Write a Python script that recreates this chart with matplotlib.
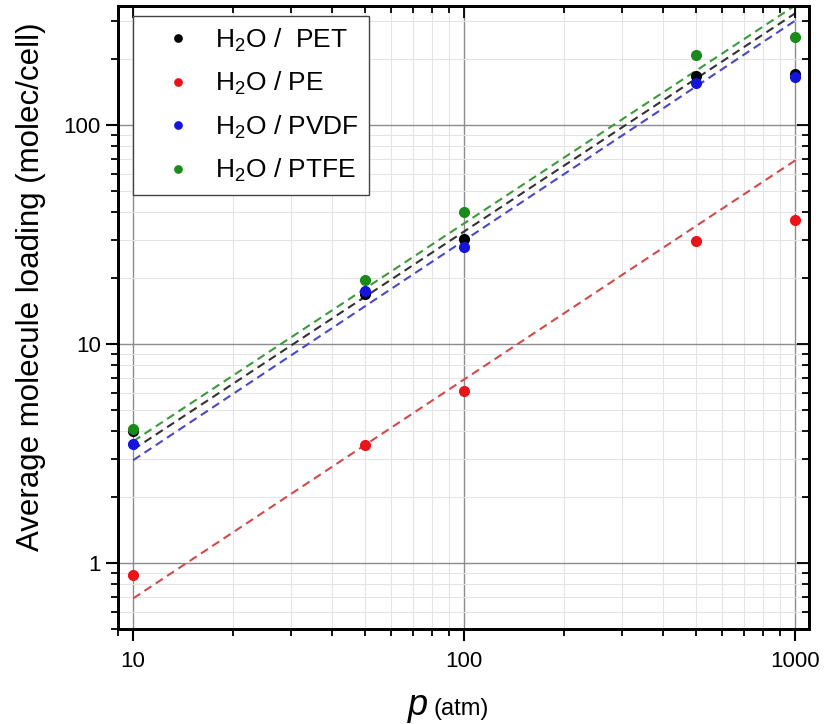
import numpy as np
import matplotlib.pyplot as plt
from matplotlib.ticker import LogLocator, NullFormatter, FixedLocator

plt.rcParams["font.family"] = ["Liberation Sans", "DejaVu Sans"]
plt.rcParams["mathtext.fontset"] = "custom"
plt.rcParams["mathtext.rm"] = "Liberation Sans"
plt.rcParams["mathtext.it"] = "Liberation Sans:italic"

# pressure (atm)
pressure = [10, 50, 100, 500, 1000]

# average loading (molec/cell)
pet = [4.0, 17.0, 30.3, 167, 172]
pe = [0.88, 3.45, 6.1, 29.7, 36.7]
pvdf = [3.5, 17.4, 27.7, 155, 166]
ptfe = [4.1, 19.7, 40.0, 208, 253]

# dashed fit lines, values at the end points
fit_x = [10, 1000]
pet_fit = [3.3, 324]
pe_fit = [0.69, 69]
pvdf_fit = [2.95, 300]
ptfe_fit = [3.6, 352]

labels = [r"H$_2$O /  PET", r"H$_2$O / PE", r"H$_2$O / PVDF", r"H$_2$O / PTFE"]
point_colors = ["black", "#e8141a", "#1414dc", "#1a8a1a"]
line_colors = ["#333333", "#d24a4a", "#4848c8", "#3c9a3c"]

fig = plt.figure(figsize=(8.33, 7.24), dpi=100)
ax = fig.add_axes([0.1417, 0.1312, 0.8293, 0.8605])

series = [pet, pe, pvdf, ptfe]
fits = [pet_fit, pe_fit, pvdf_fit, ptfe_fit]

for yfit, c in zip(fits, line_colors):
    ax.plot(fit_x, yfit, linestyle=(0, (4, 2.5)), color=c, linewidth=1.5, zorder=3)

for ys, c, lab in zip(series, point_colors, labels):
    ax.plot(pressure, ys, linestyle="none", marker="o", markersize=7,
            color=c, label=lab, zorder=4)

ax.set_xscale("log")
ax.set_yscale("log")
ax.set_xlim(9.0, 1100)
ax.set_ylim(0.5, 350)

ax.xaxis.set_major_locator(FixedLocator([10, 100, 1000]))
ax.set_xticklabels(["10", "100", "1000"])
ax.yaxis.set_major_locator(FixedLocator([1, 10, 100]))
ax.set_yticklabels(["1", "10", "100"])
ax.xaxis.set_minor_locator(LogLocator(base=10, subs=np.arange(2, 10)))
ax.yaxis.set_minor_locator(LogLocator(base=10, subs=np.arange(2, 10)))
ax.xaxis.set_minor_formatter(NullFormatter())
ax.yaxis.set_minor_formatter(NullFormatter())

ax.grid(True, which="major", color="#8c8c8c", linewidth=1.0)
ax.grid(True, which="minor", color="#e4e4e4", linewidth=0.8)
ax.set_axisbelow(True)

ax.tick_params(which="major", direction="out", length=8.5, width=1.5,
               labelsize=16, top=False, right=False)
ax.tick_params(axis="x", which="major", pad=7)
ax.tick_params(axis="y", which="major", pad=4)
ax.tick_params(which="minor", direction="out", length=5, width=1.3,
               top=False, right=False)
for sp in ax.spines.values():
    sp.set_linewidth(1.8)

# inward ticks on the top and right sides
axr = ax.twinx()
axr.set_yscale("log")
axr.set_ylim(ax.get_ylim())
axr.yaxis.set_major_locator(FixedLocator([1, 10, 100]))
axr.yaxis.set_minor_locator(LogLocator(base=10, subs=np.arange(2, 10)))
axr.tick_params(which="both", direction="in", labelright=False, width=1.3)
axr.tick_params(which="major", length=8.5)
axr.tick_params(which="minor", length=5)
axt = ax.twiny()
axt.set_xscale("log")
axt.set_xlim(ax.get_xlim())
axt.xaxis.set_major_locator(FixedLocator([10, 100, 1000]))
axt.xaxis.set_minor_locator(LogLocator(base=10, subs=np.arange(2, 10)))
axt.tick_params(which="both", direction="in", labeltop=False, width=1.3)
axt.tick_params(which="major", length=8.5)
axt.tick_params(which="minor", length=5)
for a in (axr, axt):
    for sp in a.spines.values():
        sp.set_linewidth(1.8)

ax.set_ylabel("Average molecule loading (molec/cell)", fontsize=22.5)
ax.yaxis.set_label_coords(-0.104, 0.55)

fig.text(0.514, 0.013, "p", fontsize=26, style="italic", ha="right", va="baseline")
fig.text(0.521, 0.013, "(atm)", fontsize=17, ha="left", va="baseline")

leg = axt.legend(*ax.get_legend_handles_labels(), loc="upper left",
                 bbox_to_anchor=(0.0217, 0.984), borderaxespad=0,
                 fontsize=19, markerscale=0.75, handlelength=2.6,
                 handletextpad=0.1, labelspacing=0.62, borderpad=0.4,
                 fancybox=False, framealpha=1, edgecolor="#444444")
leg.get_frame().set_linewidth(1.0)

fig.savefig("out.png", dpi=100, facecolor="white")
